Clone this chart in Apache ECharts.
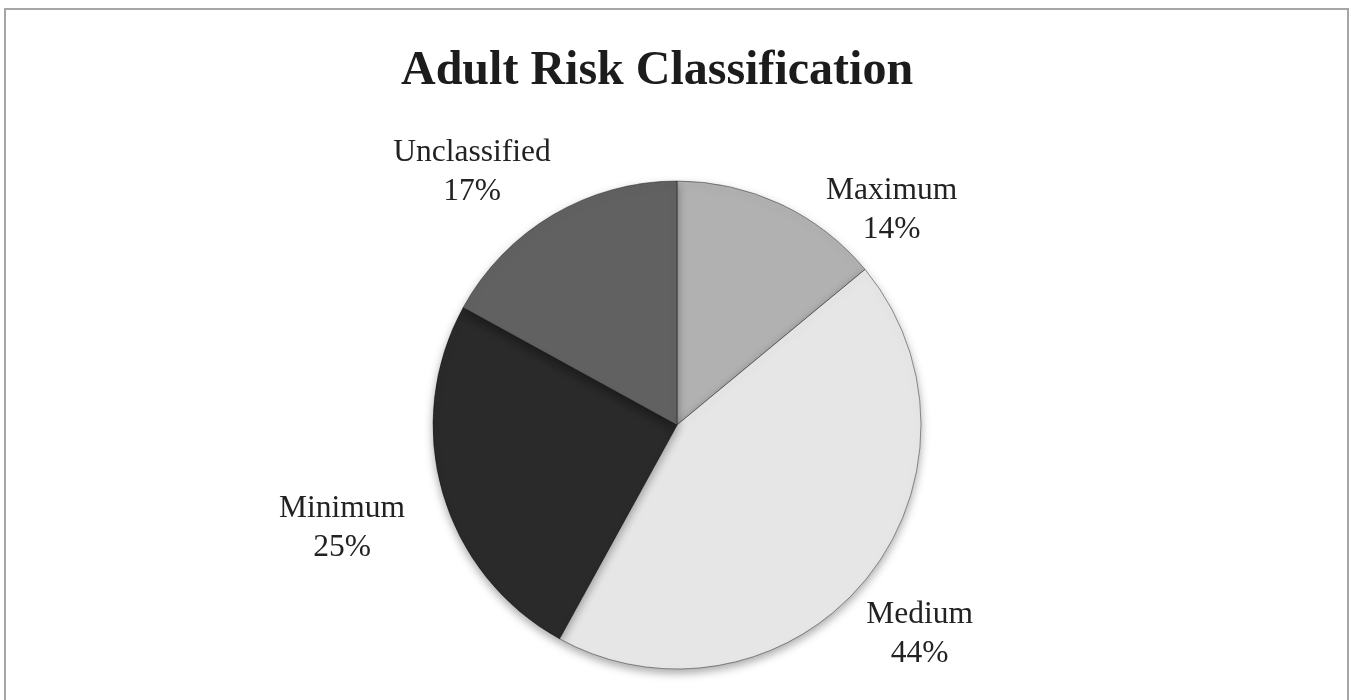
<!DOCTYPE html>
<html>
<head>
<meta charset="utf-8">
<script src="https://cdn.jsdelivr.net/npm/echarts@6/dist/echarts.min.js"></script>
<style>
  html, body { margin: 0; padding: 0; background: #fff; overflow: hidden; }
  #frame {
    position: absolute; left: 4px; top: 8px; width: 1341px; height: 700px;
    border: 2px solid #a6a6a6; border-bottom: none;
  }
  #chart { position: absolute; left: 0; top: 0; width: 1351px; height: 700px; }
</style>
</head>
<body>
<div id="frame"></div>
<div id="chart"></div>
<script>
// data
const categories = ['Maximum', 'Medium', 'Minimum', 'Unclassified'];
const shares = [14, 44, 25, 17];
const sliceColors = ['#b1b1b1', '#e6e6e6', '#2a2a2a', '#616161'];

const center = [677, 425];
const radius = 244;

const chart = echarts.init(document.getElementById('chart'));

const pieData = categories.map((name, i) => ({
  name: name,
  value: shares[i],
  itemStyle: { color: sliceColors[i] }
}));

// label-only ring, keeps the text centred on each slice's mid angle
const labelData = categories.map((name, i) => ({ name: name, value: shares[i] }));

// small nudges where the original moved a label off the mid angle
const labelNudge = [
  { dx: 75, dy: 82 },
  { dx: -10, dy: 0 },
  { dx: -20, dy: 12 },
  { dx: -38, dy: 30 }
];

chart.setOption({
  animation: false,
  title: {
    text: 'Adult Risk Classification',
    left: 396,
    top: 43,
    textStyle: {
      fontFamily: 'Liberation Serif',
      fontWeight: 'bold',
      fontSize: 48,
      color: '#1c1c1c'
    }
  },
  series: [
    {
      type: 'pie',
      center: center,
      radius: radius,
      startAngle: 90,
      clockwise: true,
      silent: true,
      label: { show: false },
      labelLine: { show: false },
      itemStyle: {
        borderColor: 'rgba(0,0,0,0.4)',
        borderWidth: 1,
        shadowBlur: 10,
        shadowOffsetY: 4,
        shadowColor: 'rgba(0,0,0,0.35)'
      },
      data: pieData
    },
    {
      type: 'pie',
      center: center,
      radius: [radius + 6, radius + 156],
      startAngle: 90,
      clockwise: true,
      silent: true,
      itemStyle: { color: 'rgba(0,0,0,0)', borderWidth: 0 },
      label: {
        show: true,
        position: 'inside',
        formatter: p => p.name + '\n' + p.value + '%',
        fontFamily: 'Liberation Serif',
        fontSize: 31.5,
        lineHeight: 39,
        color: '#222'
      },
      labelLine: { show: false },
      labelLayout: p => labelNudge[p.dataIndex],
      data: labelData
    }
  ]
});
</script>
</body>
</html>
